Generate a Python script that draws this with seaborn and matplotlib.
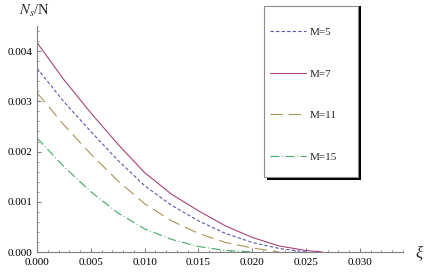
import numpy as np
import pandas as pd
import matplotlib
matplotlib.use("Agg")
import matplotlib.pyplot as plt
from matplotlib.patches import Rectangle
from matplotlib.ticker import MultipleLocator, FormatStrFormatter
import seaborn as sns

# values (y in units of N_s/N)
xi = [0.0, 0.0025, 0.005, 0.0075, 0.010, 0.0125, 0.015, 0.0175, 0.020, 0.0225, 0.025, 0.0265]
m5 = [0.00366, 0.00299, 0.00240, 0.00183, 0.00132, 0.00093, 0.00062, 0.00037, 0.00019, 0.00007, 0.0, np.nan]
m7 = [0.00417, 0.00343, 0.00277, 0.00215, 0.00158, 0.00115, 0.00082, 0.00052, 0.00029, 0.00012, 0.00003, 0.0]
m11 = [0.00317, 0.00253, 0.00195, 0.00142, 0.00096, 0.00062, 0.00037, 0.00019, 0.00008, 0.0, np.nan, np.nan]
m15 = [0.00227, 0.00170, 0.00120, 0.00078, 0.00046, 0.00025, 0.00011, 0.00003, 0.0, np.nan, np.nan, np.nan]

labels = ["M=5", "M=7", "M=11", "M=15"]
series = [m5, m7, m11, m15]
colors = ["#5656b4", "#a8437c", "#a89552", "#45a866"]
dash_styles = [(3, 2), None, (11, 5.5), (8, 2.4, 0.8, 2.4)]

df = pd.DataFrame({"xi": xi})
for lab, s in zip(labels, series):
    df[lab] = s

sns.set_style("ticks")
plt.rcParams["font.family"] = ["Liberation Serif", "DejaVu Serif"]
plt.rcParams["mathtext.fontset"] = "stix"

W, H = 436, 275
fig = plt.figure(figsize=(W / 100, H / 100), dpi=100)
ax = fig.add_axes([37 / W, 23 / H, (403 - 37) / W, (252 - 26) / H])

for lab, col, ds in zip(labels, colors, dash_styles):
    d = df[["xi", lab]].dropna()
    kw = {} if ds is None else {"dashes": ds}
    sns.lineplot(data=d, x="xi", y=lab, color=col, lw=0.8, ax=ax, label=lab, **kw)

ax.set_xlim(0, 0.034)
ax.set_ylim(0, 0.0045)
ax.set_xlabel("")
ax.set_ylabel("")
ax.xaxis.set_major_locator(MultipleLocator(0.005))
ax.xaxis.set_minor_locator(MultipleLocator(0.001))
ax.yaxis.set_major_locator(MultipleLocator(0.001))
ax.yaxis.set_minor_locator(MultipleLocator(0.0002))
ax.xaxis.set_major_formatter(FormatStrFormatter("%.3f"))
ax.yaxis.set_major_formatter(FormatStrFormatter("%.3f"))
ax.tick_params(which="both", direction="in", color="#808080", labelsize=8, labelcolor="black")
ax.tick_params(which="major", length=3)
ax.tick_params(which="minor", length=1.6)
ax.tick_params(axis="x", pad=4)
ax.tick_params(axis="y", pad=3)
for side in ["top", "right"]:
    ax.spines[side].set_visible(False)
for side in ["left", "bottom"]:
    ax.spines[side].set_color("#808080")
    ax.spines[side].set_linewidth(0.8)

fig.text(35 / W, 1 - 10.5 / H, r"$N_s$/N", fontsize=10.5, ha="center", va="center")
fig.text(419 / W, 1 - 253 / H, "ξ", fontsize=12, style="italic", ha="center", va="center")

# legend box with black drop shadow
fig.patches.append(Rectangle((267 / W, 1 - 180 / H), 94 / W, 174 / H,
                             transform=fig.transFigure, facecolor="black", edgecolor="none", zorder=5))
fig.patches.append(Rectangle((264 / W, 1 - 177 / H), 94 / W, 171 / H,
                             transform=fig.transFigure, facecolor="white", edgecolor="#8c8c8c",
                             lw=0.8, zorder=6))
leg = ax.legend(loc="upper left", bbox_to_anchor=(264 / W, 1 - 22 / H),
                bbox_transform=fig.transFigure, frameon=False, fontsize=8,
                borderpad=0, labelspacing=2.85, handlelength=3.3, handletextpad=0.3)
leg.remove()
fig.add_artist(leg)
leg.set_zorder(7)

fig.savefig("out.png", dpi=100)
